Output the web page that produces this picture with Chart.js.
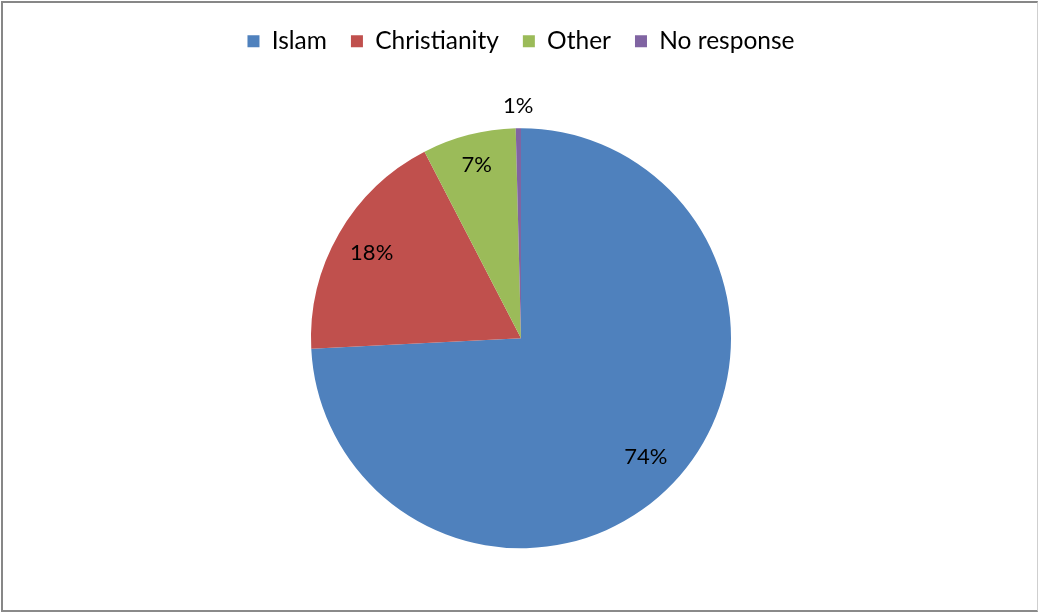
<!DOCTYPE html>
<html>
<head>
<meta charset="utf-8">
<script src="https://cdn.jsdelivr.net/npm/chart.js@4"></script>
<style>
  html, body { margin: 0; padding: 0; background: #fff; }
  #wrap { position: relative; width: 1039px; height: 613px; }
  #frame { position: absolute; left: 1px; top: 1px; width: 1037px; height: 611px; box-sizing: border-box;
           border-left: 2px solid #878787; border-top: 2px solid #878787; border-right: 1px solid #cfcfcf; border-bottom: 2px solid #8a8a8a; pointer-events: none; }
  canvas { display: block; }
</style>
</head>
<body>
<div id="wrap"><canvas id="c"></canvas><div id="frame"></div></div>
<script>
const categories = ["Islam", "Christianity", "Other", "No response"];
const values = [74.2, 18.2, 7.2, 0.4];
const valueLabels = ["74%", "18%", "7%", "1%"];
const colors = ["#4F81BD", "#C0504D", "#9BBB59", "#8064A2"];

const FONT = "Lato, 'Open Sans', sans-serif";

const labelPlugin = {
  id: 'sliceLabels',
  afterDatasetsDraw(chart) {
    const ctx = chart.ctx;
    const meta = chart.getDatasetMeta(0);
    ctx.save();
    ctx.font = "22px " + FONT;
    ctx.fillStyle = "#000";
    ctx.textAlign = "center";
    ctx.textBaseline = "middle";
    meta.data.forEach((arc, i) => {
      const p = arc.getProps(['x', 'y', 'startAngle', 'endAngle', 'outerRadius'], true);
      const mid = (p.startAngle + p.endAngle) / 2;
      const span = p.endAngle - p.startAngle;
      const r = span < 0.1 ? p.outerRadius + 22 : p.outerRadius * (span < 0.6 ? 0.85 : 0.82);
      ctx.fillText(valueLabels[i], p.x + Math.cos(mid) * r, p.y + Math.sin(mid) * r);
    });
    ctx.restore();
  }
};

new Chart(document.getElementById('c'), {
  type: 'pie',
  data: {
    labels: categories,
    datasets: [{
      data: values,
      backgroundColor: colors,
      borderWidth: 0,
      radius: 210
    }]
  },
  options: {
    responsive: true,
    maintainAspectRatio: false,
    animation: false,
    layout: { padding: { top: 5, bottom: 0, left: 3, right: 0 } },
    plugins: {
      legend: {
        position: 'top',
        labels: {
          font: { size: 24.5, family: FONT },
          color: '#000',
          boxWidth: 12,
          boxHeight: 12,
          padding: 24
        }
      },
      tooltip: { enabled: false }
    }
  },
  plugins: [labelPlugin]
});
</script>
</body>
</html>
